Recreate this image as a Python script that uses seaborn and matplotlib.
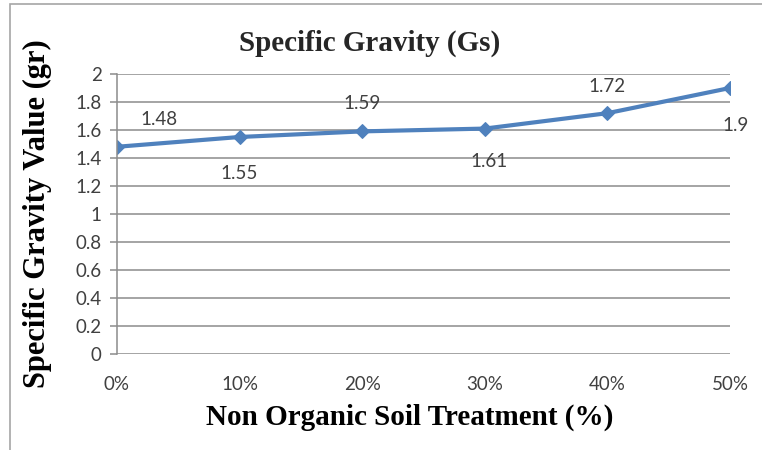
import matplotlib
matplotlib.use("Agg")
import matplotlib.pyplot as plt
from matplotlib.patches import Rectangle
import seaborn as sns
import pandas as pd

# Specific gravity of soil vs. non-organic treatment percentage
treatment_pct = [0, 10, 20, 30, 40, 50]
tick_labels = ["0%", "10%", "20%", "30%", "40%", "50%"]
gs_values = [1.48, 1.55, 1.59, 1.61, 1.72, 1.90]
value_labels = ["1.48", "1.55", "1.59", "1.61", "1.72", "1.9"]
# label offsets (points) so the numbers sit above/below the line
label_offsets = [(30, 20), (0, -26), (0, 20), (3, -24), (0, 19), (4, -27)]

df = pd.DataFrame({"treatment": treatment_pct, "gs": gs_values})

sns.set_theme(style="white")
plt.rcParams["font.family"] = ["Lato", "DejaVu Sans"]

fig = plt.figure(figsize=(7.62, 4.5), dpi=100)
ax = fig.add_axes([0.1535, 0.2133, 0.8045, 0.6223])

# outer frame of the chart area
fig.patches.append(Rectangle((10 / 762, -0.1), 1.2, 1 - 4 / 450 + 0.1,
                             transform=fig.transFigure, fill=False,
                             edgecolor="#a6a6a6", linewidth=1.2))

sns.lineplot(data=df, x="treatment", y="gs", ax=ax, color="#4F81BD",
             linewidth=3, marker="D", markersize=7, markeredgecolor="#4F81BD")

tick_size = 13.5
for x, y, lab, off in zip(treatment_pct, gs_values, value_labels, label_offsets):
    ax.annotate(lab, (x, y), xytext=off, textcoords="offset points",
                ha="center", va="center", fontsize=tick_size, color="#404040")

ax.set_xlim(0, 50)
ax.set_ylim(0, 2)
ax.set_yticks([0, 0.2, 0.4, 0.6, 0.8, 1, 1.2, 1.4, 1.6, 1.8, 2])
ax.set_yticklabels(["0", "0.2", "0.4", "0.6", "0.8", "1", "1.2", "1.4",
                    "1.6", "1.8", "2"])
ax.set_xticks(treatment_pct)
ax.set_xticklabels(tick_labels)
ax.grid(axis="y", color="#8c8c8c", linewidth=1.1)
ax.grid(axis="x", visible=False)
for side in ["top", "right"]:
    ax.spines[side].set_visible(False)
ax.spines["bottom"].set_visible(False)
ax.spines["left"].set_color("#8c8c8c")
ax.spines["left"].set_linewidth(1.1)
ax.tick_params(axis="y", length=5, width=1.1, color="#8c8c8c", pad=6,
               labelsize=tick_size, labelcolor="#404040", left=True)
ax.tick_params(axis="x", length=0, pad=16, labelsize=tick_size,
               labelcolor="#404040")

serif = ["Liberation Serif", "DejaVu Serif"]
fig.text(370 / 762, 1 - 43 / 450, "Specific Gravity (Gs)", ha="center",
         va="center", fontsize=21, fontweight="bold", family=serif)
ax.set_xlabel("Non Organic Soil Treatment (%)", fontsize=21,
              fontweight="bold", family=serif, color="black")
ax.xaxis.set_label_coords(0.477, -0.177)
ax.set_ylabel("Specific Gravity Value (gr)", fontsize=22,
              fontweight="bold", family=serif, color="black")
ax.yaxis.set_label_coords(-0.106, 0.5)

fig.savefig("out.png", dpi=100)
